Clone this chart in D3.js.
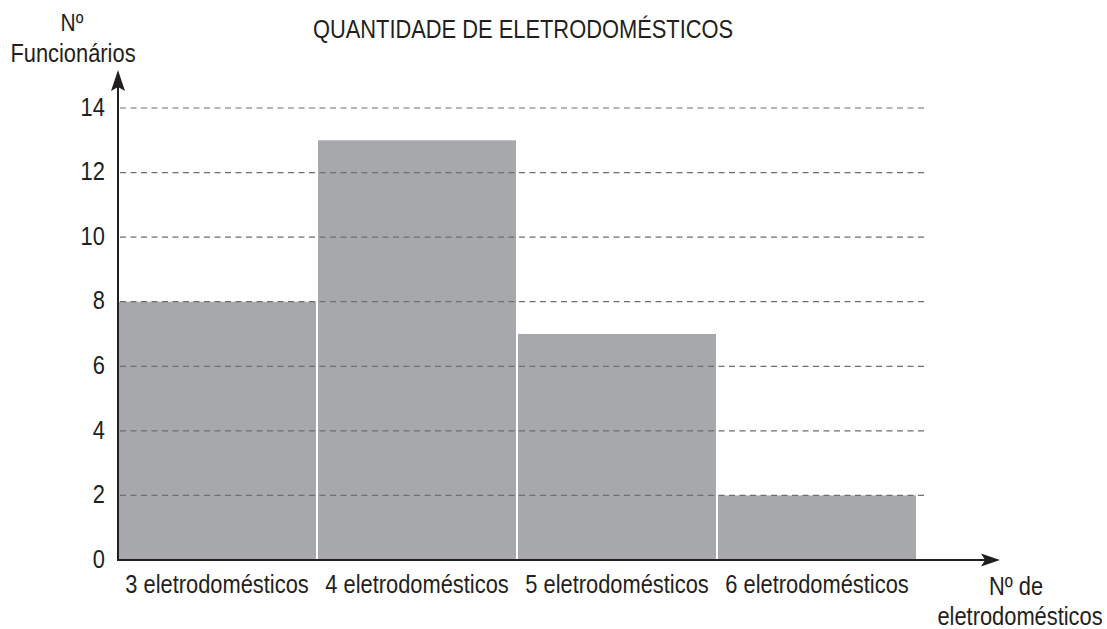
<!DOCTYPE html>
<html>
<head>
<meta charset="utf-8">
<script src="https://cdn.jsdelivr.net/npm/d3@7"></script>
<style>
  body { margin: 0; background: #fff; }
  text { font-family: "Liberation Sans", Arial, sans-serif; fill: #231f20; }
</style>
</head>
<body>
<div id="chart"></div>
<script>
var categories = ["3 eletrodomésticos", "4 eletrodomésticos", "5 eletrodomésticos", "6 eletrodomésticos"];
var values = [8, 13, 7, 2];
var yTicks = [0, 2, 4, 6, 8, 10, 12, 14];

var width = 1107, height = 629;
var x0 = 118, y0 = 560;
var fontSize = 25;
var squeeze = 0.875; // reference font is a narrow sans

var svg = d3.select("#chart")
    .append("svg")
    .attr("width", width)
    .attr("height", height)

var x = d3.scaleBand()
    .domain(categories)
    .range([x0, 916])
    .paddingInner(0.01)
    .paddingOuter(0)

var y = d3.scaleLinear()
    .domain([0, 14])
    .range([y0, 108])

// text helper, narrow look by horizontal scale
function label(px, py, str, anchor, size) {
  return svg.append("text")
      .attr("transform", "translate(" + px + "," + py + ") scale(" + squeeze + ",1)")
      .attr("text-anchor", anchor || "middle")
      .attr("font-size", size || fontSize)
      .text(str)
}

// bars
svg.selectAll(".bar")
    .data(values)
    .enter().append("rect")
    .attr("class", "bar")
    .attr("x", (d, i) => x(categories[i]))
    .attr("y", d => y(d))
    .attr("width", x.bandwidth())
    .attr("height", d => y0 - y(d))
    .attr("fill", "#a7a8ab")

// dashed grid lines, on top of bars
svg.selectAll(".grid")
    .data(yTicks.filter(d => d > 0))
    .enter().append("line")
    .attr("class", "grid")
    .attr("x1", x0 + 2)
    .attr("x2", 926)
    .attr("y1", d => y(d))
    .attr("y2", d => y(d))
    .attr("stroke", "#6d6e71")
    .attr("stroke-width", 1.2)
    .attr("stroke-dasharray", "6,4.5")

// y axis ticks
var yAxis = svg.append("g")
    .attr("transform", "translate(" + x0 + ",0)")
    .call(d3.axisLeft(y).tickValues(yTicks).tickSize(0).tickPadding(15))
yAxis.select(".domain").remove()
yAxis.selectAll("text")
    .attr("font-size", fontSize)
    .attr("font-family", "Liberation Sans, Arial, sans-serif")
    .attr("fill", "#231f20")
    .attr("dy", "0.29em")
    .attr("transform", "scale(" + squeeze + ",1)")

// axis lines with arrows
svg.append("line")
    .attr("x1", x0).attr("y1", y0 + 1)
    .attr("x2", x0).attr("y2", 80)
    .attr("stroke", "#231f20").attr("stroke-width", 2)

svg.append("path")
    .attr("d", "M" + x0 + ",70 L" + (x0 - 7) + ",91 L" + x0 + ",87 L" + (x0 + 7) + ",91 Z")
    .attr("fill", "#231f20")

svg.append("line")
    .attr("x1", x0 - 1).attr("y1", y0)
    .attr("x2", 990).attr("y2", y0)
    .attr("stroke", "#231f20").attr("stroke-width", 2)

svg.append("path")
    .attr("d", "M1000," + y0 + " L981," + (y0 - 6.5) + " L985," + y0 + " L981," + (y0 + 6.5) + " Z")
    .attr("fill", "#231f20")

// x category labels
categories.forEach(function(d) {
  label(x(d) + x.bandwidth() / 2, 593, d)
})

// title
label(523, 38, "QUANTIDADE DE ELETRODOMÉSTICOS")

// axis titles
label(72, 31, "Nº", "middle", 24)
label(73, 62, "Funcionários")
label(1016, 595, "Nº de")
label(1020, 625, "eletrodomésticos")
</script>
</body>
</html>
